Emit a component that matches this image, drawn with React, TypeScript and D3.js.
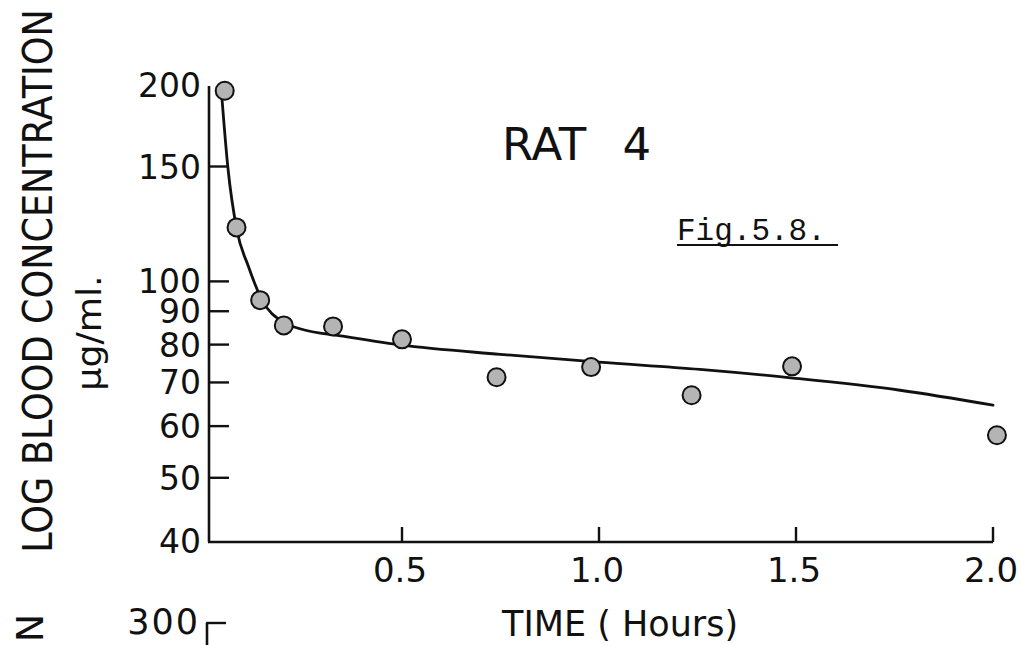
import React from "react";
import * as d3 from "d3";

const W = 1021;
const H = 645;

// Observed data points (time in hours, concentration µg/ml)
const dataTime = [0.05, 0.08, 0.14, 0.2, 0.325, 0.5, 0.74, 0.98, 1.235, 1.49, 2.01];
const dataConc = [196, 121, 93.6, 85.6, 85.3, 81.5, 71.3, 73.9, 66.9, 74.1, 58.1];

// Hand-drawn fitted curve
const fitTime = [0.043, 0.058, 0.081, 0.11, 0.145, 0.198, 0.241, 0.35, 0.495, 0.749, 1.0, 1.256, 1.492, 1.764, 2.0];
const fitConc = [191, 149.6, 119.8, 105.5, 93.6, 86.6, 84.6, 82.4, 79.9, 77.3, 75.2, 73.3, 71.1, 68.1, 64.6];

const yTickValues = [200, 150, 100, 90, 80, 70, 60, 50, 40];
const yTickLabels = ["200", "150", "100", "90", "80", "70", "60", "50", "40"];
const yTickMarks = [150, 100, 90, 80, 70, 60, 50];
const xTickValues = [0.5, 1.0, 1.5, 2.0];
const xTickLabels = ["0.5", "1.0", "1.5", "2.0"];

const title = "RAT 4";
const figLabel = "Fig.5.8.";
const xTitle = "TIME ( Hours)";
const yTitle = "LOG BLOOD CONCENTRATION";
const yUnit = "\u03BCg/ml.";

const INK = "#111";
const FONT = "'DejaVu Sans', sans-serif";

export default function App() {
  const x = d3.scaleLinear().domain([0, 2]).range([205, 993]);
  const y = d3.scaleLog().domain([40, 200]).range([541, 85]);
  const axisX0 = 209;
  const axisY = 542;

  const fitPts: [number, number][] = fitTime.map((t, i) => [t, fitConc[i]]);
  const line = d3
    .line<[number, number]>()
    .x((d) => x(d[0]))
    .y((d) => y(d[1]))
    .curve(d3.curveMonotoneX);

  return (
    <svg
      width={W}
      height={H}
      viewBox={`0 0 ${W} ${H}`}
      style={{ position: "absolute", left: 0, top: 0, background: "#fff" }}
    >
      <rect x={0} y={0} width={W} height={H} fill="#fff" />

      {/* Axes */}
      <line x1={axisX0} y1={86} x2={axisX0} y2={axisY} stroke={INK} strokeWidth={2.6} />
      <line x1={axisX0 - 1} y1={axisY} x2={x(2)} y2={axisY} stroke={INK} strokeWidth={2.6} />

      {/* Y ticks */}
      {yTickMarks.map((v) => (
        <line key={"yt" + v} x1={axisX0} x2={axisX0 + 20} y1={y(v)} y2={y(v)} stroke={INK} strokeWidth={2.4} />
      ))}
      {yTickValues.map((v, i) => (
        <text
          key={"yl" + v}
          x={201}
          y={y(v) + 12}
          textAnchor="end"
          fontFamily={FONT}
          fontSize={33}
          fill={INK}
        >
          {yTickLabels[i]}
        </text>
      ))}

      {/* X ticks */}
      {xTickValues.map((t, i) => (
        <g key={"xt" + t}>
          <line x1={x(t)} x2={x(t)} y1={axisY} y2={axisY - 15} stroke={INK} strokeWidth={2.4} />
          <text
            x={x(t) - 2}
            y={582}
            textAnchor="middle"
            fontFamily={FONT}
            fontSize={34}
            fill={INK}
          >
            {xTickLabels[i]}
          </text>
        </g>
      ))}

      {/* Fitted curve */}
      <path d={line(fitPts) || ""} fill="none" stroke={INK} strokeWidth={2.8} strokeLinecap="round" />

      {/* Data points */}
      {dataTime.map((t, i) => (
        <circle
          key={"p" + i}
          cx={x(t)}
          cy={y(dataConc[i])}
          r={9}
          fill="#b4b4b4"
          stroke={INK}
          strokeWidth={2}
        />
      ))}

      {/* Title & figure label */}
      <text x={502} y={160} fontFamily={FONT} fontSize={45} fill={INK} wordSpacing={22}>
        {title}
      </text>
      <text x={677} y={240} fontFamily="'Liberation Mono', monospace" fontSize={31} fill={INK}>
        {figLabel}
      </text>
      <line x1={677} x2={838} y1={245} y2={245} stroke={INK} strokeWidth={1.8} />

      {/* Axis titles */}
      <text x={502} y={636} fontFamily={FONT} fontSize={35} fill={INK}>
        {xTitle}
      </text>
      <text
        transform="translate(52,281) rotate(-90) scale(0.89,1)"
        textAnchor="middle"
        fontFamily={FONT}
        fontSize={41}
        fill={INK}
      >
        {yTitle}
      </text>
      <text
        transform="translate(101,333) rotate(-90) scale(1.1,1)"
        textAnchor="middle"
        fontFamily={FONT}
        fontSize={33}
        fill={INK}
      >
        {yUnit}
      </text>

      {/* Partial next panel at bottom */}
      <text transform="translate(43,628) rotate(-90)" textAnchor="middle" fontFamily={FONT} fontSize={38} fill={INK}>
        N
      </text>
      <text x={200} y={634} textAnchor="end" fontFamily={FONT} fontSize={35} fill={INK} letterSpacing={2}>
        300
      </text>
      <line x1={207} y1={623} x2={207} y2={H} stroke={INK} strokeWidth={2.6} />
      <line x1={206} y1={623} x2={226} y2={623} stroke={INK} strokeWidth={2.4} />
    </svg>
  );
}
